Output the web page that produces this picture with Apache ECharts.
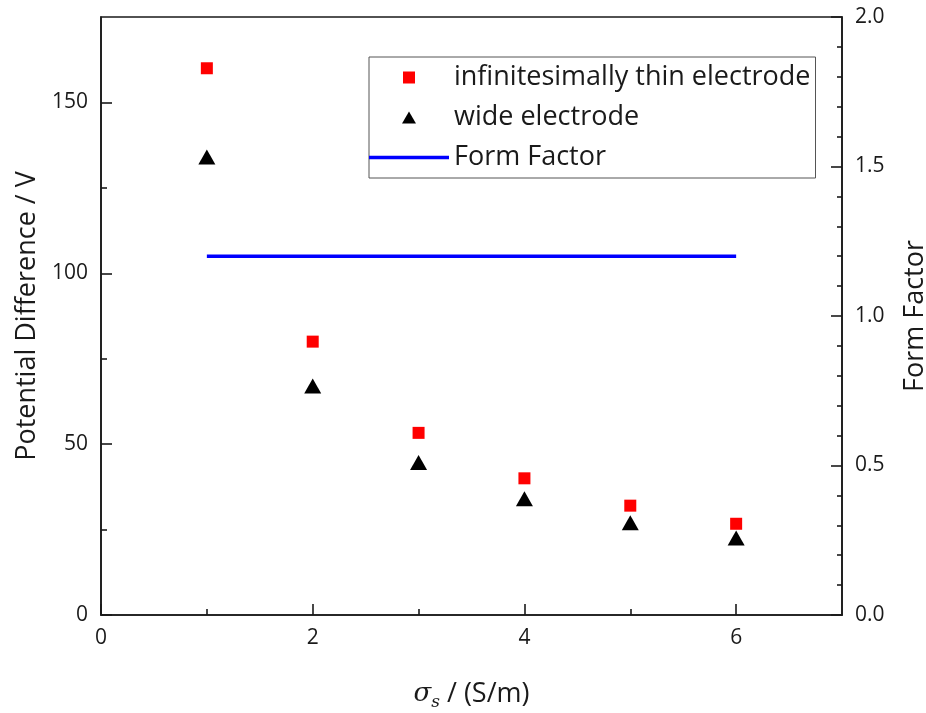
<!DOCTYPE html>
<html>
<head>
<meta charset="utf-8">
<script src="https://cdn.jsdelivr.net/npm/echarts@6/dist/echarts.min.js"></script>
<style>
  html, body { margin: 0; padding: 0; background: #fff; }
  #main { width: 926px; height: 713px; }
</style>
</head>
<body>
<div id="main"></div>
<script>
// conductivity sigma_s (S/m)
var sigma = [1, 2, 3, 4, 5, 6];
var thinValues = [160, 80, 53.3, 40, 32, 26.7];
var wideValues = [134, 67, 44.6, 34, 27, 22.5];
var formFactorX = [1, 6];
var formFactorValues = [1.2, 1.2];

var xMajorTicks = [0, 2, 4, 6];
var xMinorTicks = [1, 3, 5];
var yMajorTicks = [0, 50, 100, 150];
var yMinorTicks = [25, 75, 125];

var font = 'Open Sans';
var ink = '#1a1a1a';

var chart = echarts.init(document.getElementById('main'), null, {renderer: 'canvas'});

function pairs(xs, ys) {
    return xs.map(function (x, i) { return [x, ys[i]]; });
}

var option = {
    backgroundColor: '#fff',
    animation: false,
    textStyle: {fontFamily: font, color: ink},
    grid: {
        left: 101, right: 84, top: 17, bottom: 98,
        containLabel: false, outerBoundsMode: 'none',
        show: true, borderColor: ink, borderWidth: 1.6, backgroundColor: 'transparent'
    },
    legend: {
        orient: 'vertical',
        left: 369, top: 57,
        padding: [7, 5, 7, 0],
        itemWidth: 80, itemHeight: 12, itemGap: 13,
        symbolKeepAspect: true,
        borderColor: '#555', borderWidth: 1,
        textStyle: {fontFamily: font, fontSize: 27, color: ink},
        data: [
            {name: 'infinitesimally thin electrode', icon: 'path://M0,0H1V1H0Z'},
            {name: 'wide electrode', icon: 'path://M0.5,0L1,0.86L0,0.86Z'},
            {name: 'Form Factor', icon: 'path://M0,0H80V3.5H0Z'}
        ]
    },
    xAxis: [
        {
            type: 'value', min: 0, max: 7, interval: 1,
            name: '{sig|σ}{sub|s}{t| / (S/m)}',
            nameLocation: 'middle', nameGap: 62,
            nameTextStyle: {
                rich: {
                    sig: {fontFamily: 'DejaVu Serif', fontStyle: 'italic', fontSize: 26, color: ink, lineHeight: 34},
                    sub: {fontFamily: 'DejaVu Serif', fontStyle: 'italic', fontSize: 17, color: ink, lineHeight: 34, verticalAlign: 'bottom', padding: [12, 0, 0, 0]},
                    t: {fontFamily: font, fontSize: 27, color: ink, lineHeight: 34}
                }
            },
            axisLine: {onZero: false, lineStyle: {color: ink, width: 1.6}},
            axisTick: {inside: true, length: 11, customValues: xMajorTicks, lineStyle: {color: ink, width: 1.6}},
            axisLabel: {customValues: xMajorTicks, margin: 13, fontSize: 21, color: ink, fontFamily: font},
            splitLine: {show: false}
        },
        {
            type: 'value', min: 0, max: 7, position: 'bottom',
            axisLine: {show: false},
            axisTick: {inside: true, length: 6, customValues: xMinorTicks, lineStyle: {color: ink, width: 1.6}},
            axisLabel: {show: false},
            splitLine: {show: false}
        }
    ],
    yAxis: [
        {
            type: 'value', min: 0, max: 175, position: 'left',
            name: 'Potential Difference / V',
            nameLocation: 'middle', nameGap: 58,
            nameTextStyle: {fontFamily: font, fontSize: 27, color: ink},
            axisLine: {onZero: false, lineStyle: {color: ink, width: 1.6}},
            axisTick: {inside: true, length: 11, customValues: yMajorTicks, lineStyle: {color: ink, width: 1.6}},
            axisLabel: {customValues: yMajorTicks, margin: 13, fontSize: 21, color: ink, fontFamily: font},
            splitLine: {show: false}
        },
        {
            type: 'value', min: 0, max: 2, interval: 0.5, position: 'right',
            name: 'Form Factor',
            nameLocation: 'middle', nameGap: 60, nameRotate: 90,
            nameTextStyle: {fontFamily: font, fontSize: 27, color: ink},
            axisLine: {onZero: false, lineStyle: {color: ink, width: 1.6}},
            axisTick: {inside: true, length: 11, lineStyle: {color: ink, width: 1.6}},
            minorTick: {show: true, splitNumber: 5, length: 5, lineStyle: {color: ink, width: 1.6}},
            axisLabel: {
                margin: 13, fontSize: 21, color: ink, fontFamily: font,
                formatter: function (v) { return v.toFixed(1); }
            },
            splitLine: {show: false}
        },
        {
            type: 'value', min: 0, max: 175, position: 'left',
            axisLine: {show: false},
            axisTick: {inside: true, length: 6, customValues: yMinorTicks, lineStyle: {color: ink, width: 1.6}},
            axisLabel: {show: false},
            splitLine: {show: false}
        }
    ],
    series: [
        {
            name: 'infinitesimally thin electrode',
            type: 'scatter',
            symbol: 'rect', symbolSize: 12,
            itemStyle: {color: '#ff0000', opacity: 1},
            data: pairs(sigma, thinValues)
        },
        {
            name: 'wide electrode',
            type: 'scatter',
            symbol: 'triangle', symbolSize: [17, 15],
            itemStyle: {color: '#000000', opacity: 1},
            data: pairs(sigma, wideValues)
        },
        {
            name: 'Form Factor',
            type: 'line',
            yAxisIndex: 1,
            symbol: 'none',
            lineStyle: {color: '#0000ff', width: 3.5},
            itemStyle: {color: '#0000ff'},
            data: pairs(formFactorX, formFactorValues)
        }
    ]
};

chart.setOption(option);
</script>
</body>
</html>
